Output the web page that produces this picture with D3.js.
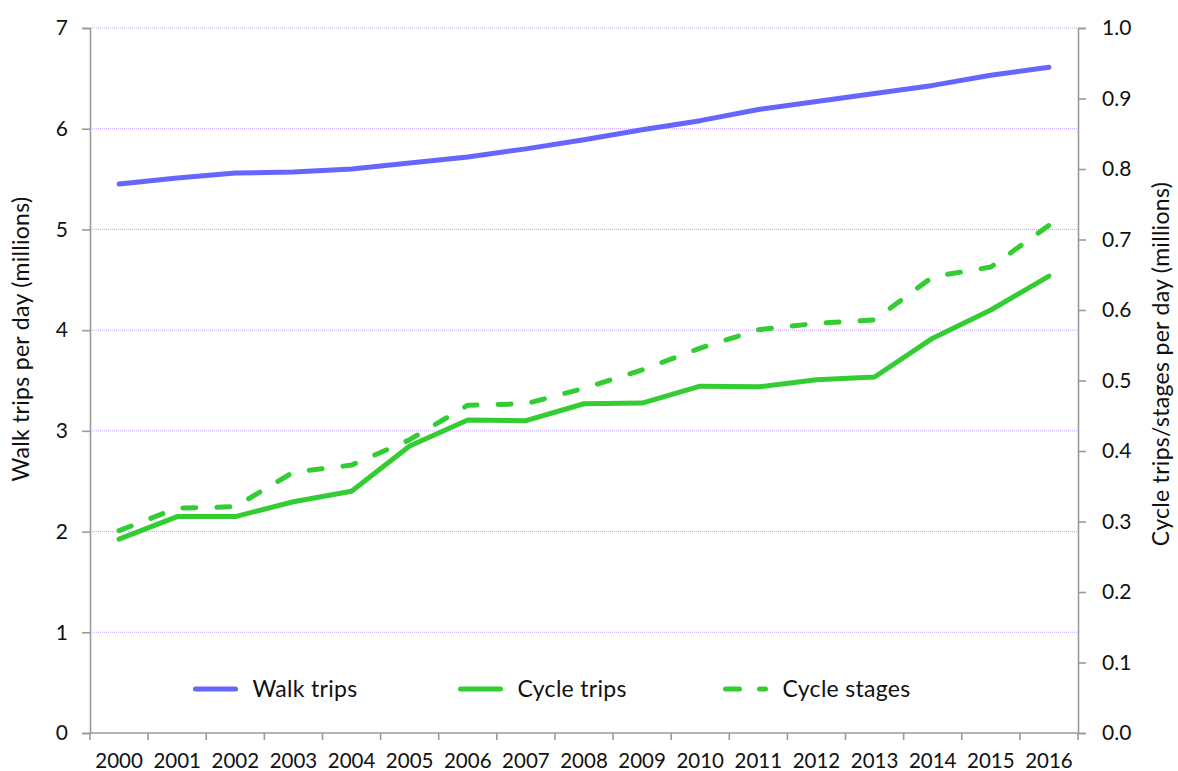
<!DOCTYPE html>
<meta charset="utf-8">
<head>
  <title>Walk and cycle trips</title>
  <script src="https://cdn.jsdelivr.net/npm/d3@7"></script>
  <style>
    body { margin: 0; background: #fff; }
    text { font-family: Lato, "Open Sans", sans-serif; fill: #111; }
  </style>
</head>
<body>
  <div id="chart"></div>
  <script>
    // data
    var years = ["2000", "2001", "2002", "2003", "2004", "2005", "2006", "2007", "2008",
                 "2009", "2010", "2011", "2012", "2013", "2014", "2015", "2016"];
    var walkTrips = [5.45, 5.51, 5.56, 5.57, 5.60, 5.66, 5.72, 5.80, 5.89,
                     5.99, 6.08, 6.19, 6.27, 6.35, 6.43, 6.53, 6.61];
    var cycleTrips = [0.275, 0.307, 0.307, 0.328, 0.343, 0.407, 0.444, 0.443, 0.467,
                      0.468, 0.492, 0.491, 0.501, 0.505, 0.560, 0.600, 0.648];
    var cycleStages = [0.287, 0.319, 0.321, 0.370, 0.380, 0.416, 0.465, 0.467, 0.489,
                       0.515, 0.546, 0.572, 0.581, 0.586, 0.647, 0.661, 0.720];
    var leftTicks = [0, 1, 2, 3, 4, 5, 6, 7];
    var rightTicks = [0, 0.1, 0.2, 0.3, 0.4, 0.5, 0.6, 0.7, 0.8, 0.9, 1.0];

    var W = 1178, H = 771;
    var plotLeft = 90, plotRight = 1078, plotTop = 28, plotBottom = 733;
    var axisColor = "#9a9a9a";

    var svg = d3.select("#chart").append("svg")
      .attr("width", W).attr("height", H);

    var x = d3.scaleBand().domain(years).range([plotLeft, plotRight]).padding(0);
    var yL = d3.scaleLinear().domain([0, 7]).range([plotBottom, plotTop]);
    var yR = d3.scaleLinear().domain([0, 1]).range([plotBottom, plotTop]);

    // gridlines
    svg.append("g").selectAll("line")
      .data(leftTicks.filter(d => d > 0))
      .enter().append("line")
      .attr("x1", plotLeft).attr("x2", plotRight)
      .attr("y1", d => yL(d)).attr("y2", d => yL(d))
      .attr("stroke", "#c9a6ff")
      .attr("stroke-width", 1)
      .attr("stroke-dasharray", "1,1");

    // left axis
    var gl = svg.append("g").attr("transform", "translate(" + plotLeft + ",0)")
      .call(d3.axisLeft(yL).tickValues(leftTicks).tickSize(8).tickPadding(14).tickFormat(d3.format("d")));
    // right axis
    var gr = svg.append("g").attr("transform", "translate(" + plotRight + ",0)")
      .call(d3.axisRight(yR).tickValues(rightTicks).tickSize(8).tickPadding(16).tickFormat(d3.format(".1f")));
    // bottom axis
    var gb = svg.append("g").attr("transform", "translate(0," + plotBottom + ")")
      .call(d3.axisBottom(x).tickSize(0).tickPadding(20));

    [gl, gr, gb].forEach(function (g) {
      g.select(".domain").attr("stroke", axisColor).attr("stroke-width", 1.6);
      g.selectAll(".tick line").attr("stroke", axisColor).attr("stroke-width", 1.6);
      g.selectAll("text").style("font-size", "21px").attr("fill", "#111");
    });
    gb.selectAll("text").style("font-size", "20.5px");
    gb.select(".domain").attr("d", "M" + plotLeft + ",0H" + plotRight);

    // category boundary ticks on x axis
    var bounds = years.map(d => x(d)).concat([plotRight]);
    svg.append("g").selectAll("line")
      .data(bounds).enter().append("line")
      .attr("x1", d => d).attr("x2", d => d)
      .attr("y1", plotBottom).attr("y2", plotBottom + 7)
      .attr("stroke", axisColor).attr("stroke-width", 1.6);

    // axis titles
    svg.append("text")
      .attr("transform", "translate(29,339) rotate(-90)")
      .attr("text-anchor", "middle")
      .style("font-size", "23px")
      .style("letter-spacing", "0.3px")
      .text("Walk trips per day (millions)");
    svg.append("text")
      .attr("transform", "translate(1169,364) rotate(-90)")
      .attr("text-anchor", "middle")
      .style("font-size", "23px")
      .style("letter-spacing", "0.3px")
      .text("Cycle trips/stages per day (millions)");

    var cx = d => x(d) + x.bandwidth() / 2;
    var lineL = d3.line().x((d, i) => cx(years[i])).y(d => yL(d));
    var lineR = d3.line().x((d, i) => cx(years[i])).y(d => yR(d));

    var series = [
      { name: "Walk trips", values: walkTrips, line: lineL, color: "#6666ff", dash: null },
      { name: "Cycle trips", values: cycleTrips, line: lineR, color: "#33cc33", dash: null },
      { name: "Cycle stages", values: cycleStages, line: lineR, color: "#33cc33", dash: "13,21" }
    ];

    svg.append("g").selectAll("path")
      .data(series).enter().append("path")
      .attr("d", d => d.line(d.values))
      .attr("fill", "none")
      .attr("stroke", d => d.color)
      .attr("stroke-width", 5)
      .attr("stroke-linecap", "round")
      .attr("stroke-linejoin", "round")
      .attr("stroke-dasharray", d => d.dash);

    // legend
    var legendX = [195.5, 460.5, 725.5];
    var legendY = 689;
    var lg = svg.append("g").selectAll("g")
      .data(series).enter().append("g")
      .attr("transform", (d, i) => "translate(" + legendX[i] + "," + legendY + ")");
    lg.append("line")
      .attr("x1", 0).attr("x2", 40)
      .attr("stroke", d => d.color)
      .attr("stroke-width", 5)
      .attr("stroke-linecap", "round")
      .attr("stroke-dasharray", d => d.dash ? "14,20" : null);
    lg.append("text")
      .attr("x", 57).attr("y", 8)
      .style("font-size", "23px")
      .style("letter-spacing", "0.3px")
      .text(d => d.name);
  </script>
</body>
</html>
